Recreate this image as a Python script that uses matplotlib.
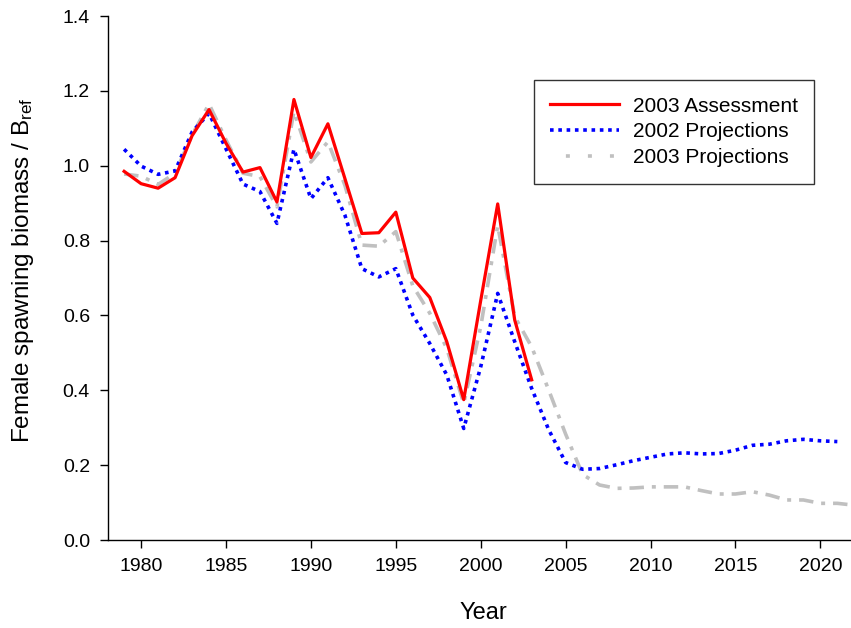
import numpy as np
import matplotlib.pyplot as plt
from matplotlib.lines import Line2D

plt.rcParams['font.family'] = ['Liberation Sans', 'DejaVu Sans']
plt.rcParams['mathtext.fontset'] = 'custom'
plt.rcParams['mathtext.rm'] = 'Liberation Sans'
plt.rcParams['mathtext.it'] = 'Liberation Sans'

# ============================
# Data
# ============================
years_assess = list(range(1979, 2004))
assess_2003 = [0.985, 0.952, 0.940, 0.968, 1.080, 1.150, 1.060, 0.983, 0.995, 0.903,
               1.177, 1.022, 1.112, 0.966, 0.819, 0.821, 0.876, 0.700, 0.648, 0.530,
               0.375, 0.640, 0.898, 0.588, 0.428]

years_proj02 = list(range(1979, 2022))
proj_2002 = [1.044, 0.999, 0.977, 0.986, 1.090, 1.140, 1.045, 0.951, 0.931, 0.846,
             1.044, 0.912, 0.968, 0.868, 0.725, 0.703, 0.725, 0.601, 0.525, 0.441,
             0.298, 0.463, 0.659, 0.530, 0.405, 0.295, 0.207, 0.189, 0.191, 0.201,
             0.212, 0.221, 0.230, 0.233, 0.230, 0.231, 0.240, 0.253, 0.256, 0.265,
             0.269, 0.265, 0.263]

years_proj03 = list(range(1979, 2023))
proj_2003 = [0.978, 0.972, 0.950, 0.980, 1.082, 1.165, 1.069, 0.980, 0.971, 0.890,
             1.145, 1.010, 1.064, 0.948, 0.788, 0.785, 0.824, 0.679, 0.606, 0.512,
             0.365, 0.570, 0.840, 0.597, 0.516, 0.401, 0.283, 0.175, 0.147, 0.138,
             0.139, 0.142, 0.142, 0.142, 0.132, 0.123, 0.123, 0.129, 0.120, 0.107,
             0.107, 0.098, 0.098, 0.093]

# ============================
# Plot
# ============================
fig = plt.figure(figsize=(8.51, 6.28), dpi=100)
ax = fig.add_axes([0.1269, 0.1401, 0.873, 0.8344])

ax.plot(years_proj03, proj_2003, color='#c0c0c0', lw=2.6,
        linestyle=(0, (4, 2.2, 1.1, 2.2)), zorder=2)
l02, = ax.plot(years_proj02, proj_2002, color='#0000ff', lw=2.6,
               linestyle=(0, (1, 1.3)), zorder=3)
l03, = ax.plot(years_assess, assess_2003, color='#ff0000', lw=2.3,
               linestyle='-', zorder=4)

ax.set_xlim(1978.05, 2021.8)
ax.set_ylim(0, 1.4)
ax.set_xticks(range(1980, 2021, 5))
ax.set_yticks(np.arange(0, 1.41, 0.2))
ax.set_yticklabels([f'{v:.1f}' for v in np.arange(0, 1.41, 0.2)])

ax.spines['top'].set_visible(False)
ax.spines['right'].set_visible(False)
for s in ['left', 'bottom']:
    ax.spines[s].set_linewidth(1.0)
ax.tick_params(direction='out', length=6, width=1, labelsize=14, pad=7)

ax.set_xlabel('Year', fontsize=17, va='top')
ax.xaxis.set_label_coords(0.505, -0.119)
ax.set_ylabel(r'Female spawning biomass / B$_{\mathrm{ref}}$', fontsize=17.5)
ax.yaxis.set_label_coords(-0.097, 0.515)

# grey legend handle shows only the short dots, as in the original
grey_proxy = Line2D([], [], color='#c0c0c0', lw=2.6, linestyle=(1.7, (1.1, 5)))
leg = ax.legend([l03, l02, grey_proxy],
                ['2003 Assessment', '2002 Projections', '2003 Projections'],
                loc='upper left', bbox_to_anchor=(0.573, 0.878), borderaxespad=0,
                fontsize=15, frameon=True, fancybox=False, edgecolor='black',
                handlelength=3.3, handletextpad=0.65, borderpad=0.8,
                labelspacing=0.33)
leg.get_frame().set_linewidth(1)

fig.savefig('out.png', dpi=100)
